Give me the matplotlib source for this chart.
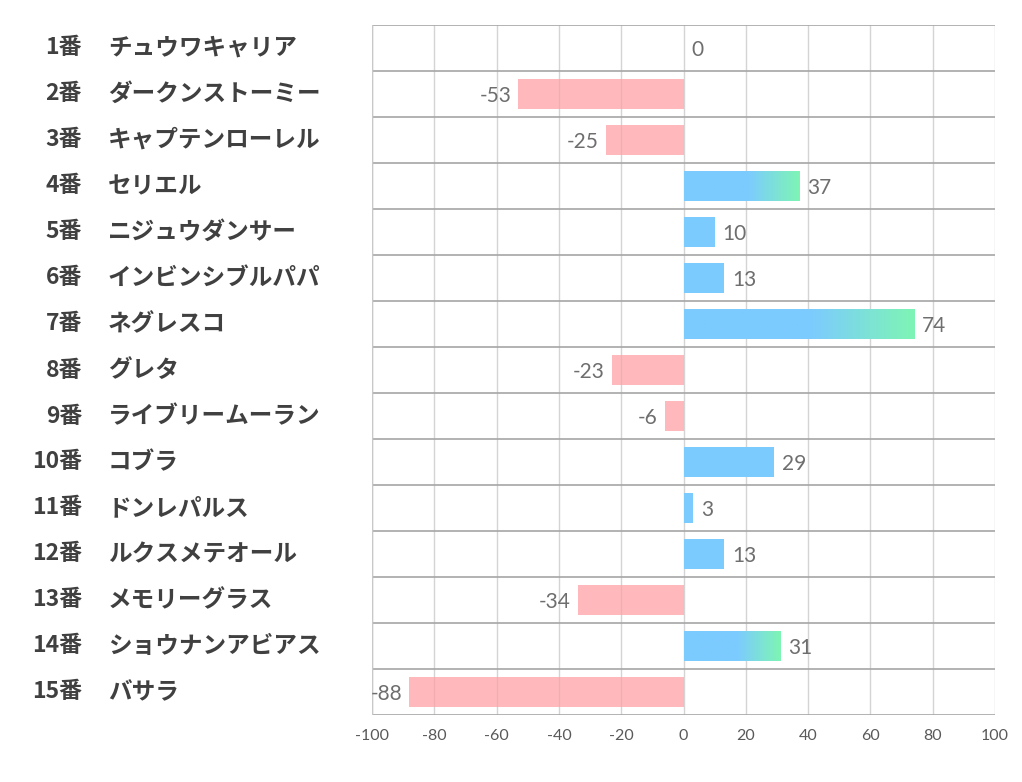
import numpy as np
import matplotlib
matplotlib.use("Agg")
import matplotlib.pyplot as plt
from matplotlib.colors import LinearSegmentedColormap

plt.rcParams['font.family'] = ['Noto Sans CJK JP', 'DejaVu Sans']

# data
numbers = [f"{i}番" for i in range(1, 16)]
names = ["チュウワキャリア", "ダークンストーミー", "キャプテンローレル", "セリエル",
         "ニジュウダンサー", "インビンシブルパパ", "ネグレスコ", "グレタ",
         "ライブリームーラン", "コブラ", "ドンレパルス", "ルクスメテオール",
         "メモリーグラス", "ショウナンアビアス", "バサラ"]
values = [0, -53, -25, 37, 10, 13, 74, -23, -6, 29, 3, 13, -34, 31, -88]
xticks = list(range(-100, 101, 20))

pink = "#ff9fa3"
blue = "#7ccbff"
green = "#7ef5b4"

fig = plt.figure(figsize=(10.22, 7.82), dpi=100)
ax = fig.add_axes([372/1022, 1-715/782, (995-372)/1022, (715-25)/782])

n = len(values)
ypos = np.arange(n)
h = 0.65

grad_cmap = LinearSegmentedColormap.from_list("bg", [(0, blue), (0.55, blue), (1, green)])

for y, v in zip(ypos, values):
    if v < 0:
        ax.barh(y, v, height=h, color=pink, alpha=0.72, zorder=3)
    elif v > 0:
        bar = ax.barh(y, v, height=h, color=blue, zorder=3)[0]
        if v >= 30:
            # gradient over the end of the bar
            grad = np.linspace(0, 1, 256).reshape(1, -1)
            im = ax.imshow(grad, cmap=grad_cmap, extent=[0, v, y + h/2, y - h/2],
                           aspect='auto', zorder=4, interpolation='bilinear')
            im.set_clip_path(bar)
            bar.set_alpha(0)

    if v < 0:
        ax.text(v - 2.2, y + 0.05, str(v), ha='right', va='center', fontsize=15,
                color="#6e6e6e", family=['Lato', 'DejaVu Sans'], zorder=5)
    else:
        ax.text(v + 2.6, y + 0.05, str(v), ha='left', va='center', fontsize=15,
                color="#6e6e6e", family=['Lato', 'DejaVu Sans'], zorder=5)

ax.set_xlim(-100, 100)
ax.set_ylim(n - 0.5, -0.5)

# grid
for x in xticks:
    ax.axvline(x, color="#d4d4d4", lw=1, zorder=1)
for b in np.arange(-0.5, n, 1):
    ax.axhline(b, color="#a6a6a6", lw=1.2, zorder=2)

for s in ax.spines.values():
    s.set_visible(False)
ax.axvline(-100, color="#c8c8c8", lw=1, zorder=2)

ax.set_xticks(xticks)
ax.set_xticklabels([str(t) for t in xticks], family=['Lato', 'DejaVu Sans'],
                   fontsize=11.5, color="#595959")
ax.tick_params(axis='x', length=0, pad=10)
ax.set_yticks([])

# row labels
for y, num, name in zip(ypos, numbers, names):
    yy = 1 - (25 + (y + 0.5) * 46.0) / 782
    fig.text(82/1022, yy, num, ha='right', va='center', fontsize=16.5,
             fontweight='bold', color="#404040")
    fig.text(108/1022, yy, name, ha='left', va='center', fontsize=17,
             fontweight='bold', color="#404040")

fig.savefig("out.png", dpi=100, facecolor='white')
